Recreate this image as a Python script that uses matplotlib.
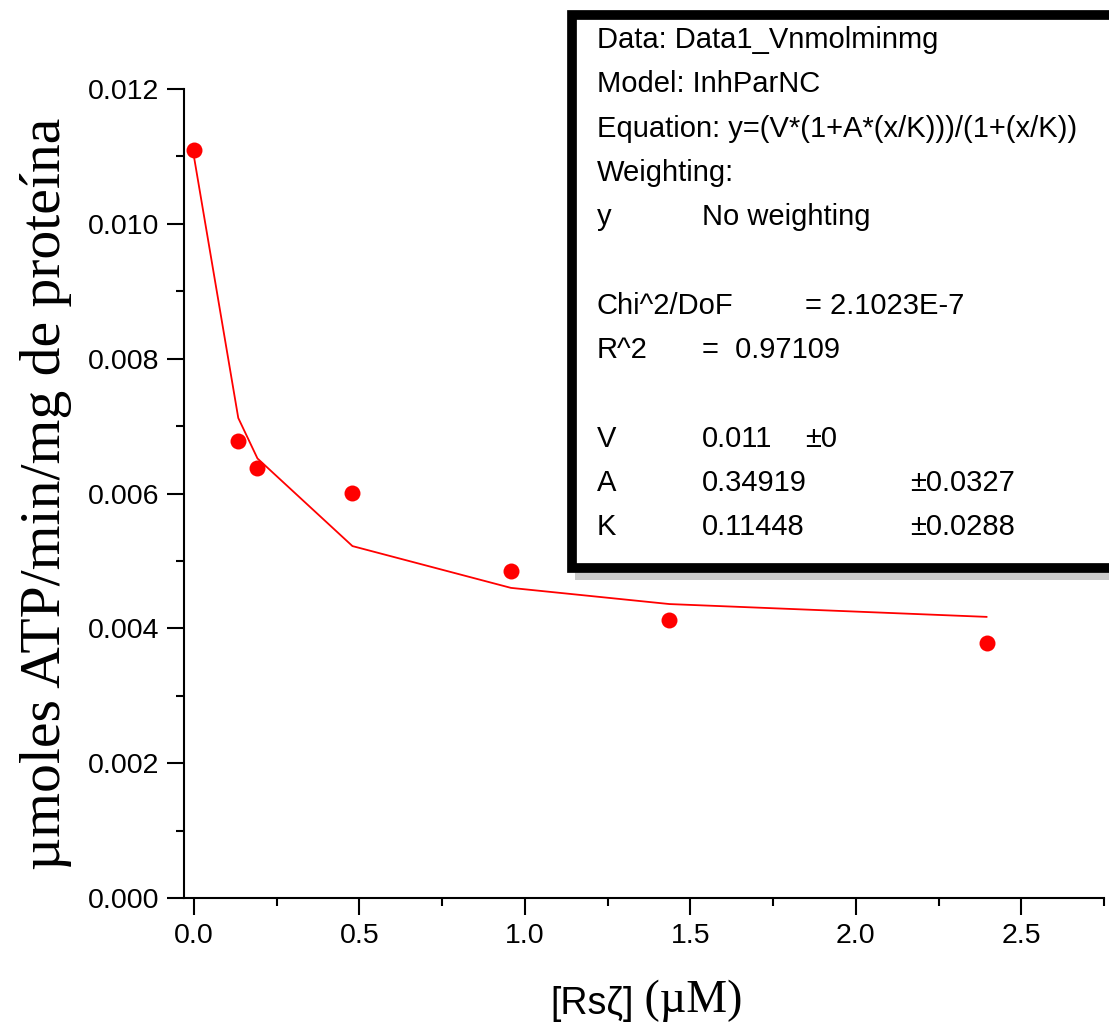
import matplotlib
matplotlib.use('Agg')
import matplotlib.pyplot as plt
from matplotlib.patches import Rectangle
from matplotlib.ticker import MultipleLocator, FormatStrFormatter

# datos medidos
conc = [0.0, 0.134, 0.192, 0.479, 0.958, 1.437, 2.395]
actividad = [0.01110, 0.00678, 0.00638, 0.00601, 0.00485, 0.00412, 0.00378]
# valores del ajuste (InhParNC) en cada concentracion
ajuste = [0.01100, 0.00712, 0.00652, 0.00522, 0.00460, 0.00436, 0.00417]

# texto del recuadro de Origin (columnas fijas)
box_rows = [
    ['Data: Data1_Vnmolminmg'],
    ['Model: InhParNC'],
    ['Equation: y=(V*(1+A*(x/K)))/(1+(x/K))'],
    ['Weighting:'],
    ['y', 'No weighting'],
    [],
    ['Chi^2/DoF', '', '= 2.1023E-7'],
    ['R^2', '=  0.97109'],
    [],
    ['V', '0.011', '±0'],
    ['A', '0.34919', '', '±0.0327'],
    ['K', '0.11448', '', '±0.0288'],
]

W, H = 1109, 1028
fig = plt.figure(figsize=(W / 100, H / 100), dpi=100)
ax = fig.add_axes([184 / W, 1 - 898 / H, 920 / W, 809 / H])

ax.plot(conc, ajuste, color='red', linewidth=1.3, zorder=2)
ax.plot(conc, actividad, 'o', color='red', markersize=11.5, markeredgewidth=0, zorder=3)

ax.set_xlim(-0.03, 2.75)
ax.set_ylim(0, 0.012)
ax.xaxis.set_major_locator(MultipleLocator(0.5))
ax.xaxis.set_minor_locator(MultipleLocator(0.25))
ax.yaxis.set_major_locator(MultipleLocator(0.002))
ax.yaxis.set_minor_locator(MultipleLocator(0.001))
ax.xaxis.set_major_formatter(FormatStrFormatter('%.1f'))
ax.yaxis.set_major_formatter(FormatStrFormatter('%.3f'))

for s in ['top', 'right']:
    ax.spines[s].set_visible(False)
for s in ['left', 'bottom']:
    ax.spines[s].set_linewidth(1.5)
ax.tick_params(which='major', direction='out', length=12, width=1.5, labelsize=20.5, pad=6,
               labelfontfamily='Liberation Sans')
ax.tick_params(which='minor', direction='out', length=6, width=1.5)

ax.set_ylabel('µmoles ATP/min/mg de proteína', fontsize=41.5, family='Liberation Serif')
ax.yaxis.set_label_coords(-0.122, 0.5)

# etiqueta del eje x: parte sans y parte serif
t1 = fig.text(550 / W, 1 - 1014 / H, '[Rsζ]', fontsize=27,
              family=['Liberation Sans', 'DejaVu Sans'], va='baseline')
ax.annotate(' (µM)', xy=(1, 0), xycoords=t1, va='bottom', ha='left',
            fontsize=33, family='Liberation Serif', annotation_clip=False)

# recuadro con sombra
fig.patches.append(Rectangle((575 / W, 1 - 580 / H), 560 / W, 565 / H, transform=fig.transFigure,
                             facecolor='#999999', edgecolor='none', alpha=0.5, zorder=5))
fig.patches.append(Rectangle((572 / W, 1 - 568 / H), 560 / W, 553 / H, transform=fig.transFigure,
                             facecolor='white', edgecolor='black', linewidth=7, zorder=6))

col_x = [597, 702, 805, 910]
for i, row in enumerate(box_rows):
    y = 40 + 44.3 * i
    for j, txt in enumerate(row):
        if txt:
            fig.text(col_x[j] / W, 1 - y / H, txt, fontsize=21, family='Liberation Sans',
                     va='center', zorder=7)

fig.savefig('out.png', dpi=100)
